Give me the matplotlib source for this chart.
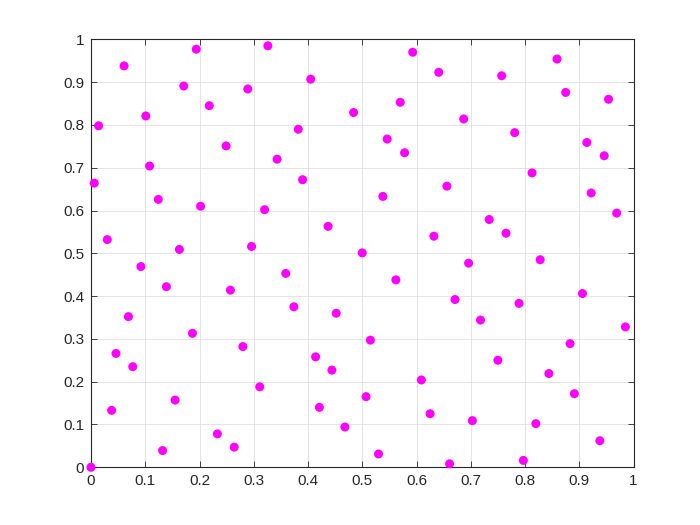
import numpy as np
import matplotlib
matplotlib.use("Agg")
import matplotlib.pyplot as plt

# points
x_vals = [
    0.194, 0.326, 0.061, 0.171, 0.289, 0.218, 0.101, 0.014, 0.249, 0.108,
    0.006, 0.124, 0.202, 0.320, 0.030, 0.163, 0.296,
    0.593, 0.641, 0.405, 0.570, 0.484, 0.382, 0.546, 0.578, 0.343, 0.390,
    0.656, 0.538, 0.437, 0.632, 0.500,
    0.859, 0.757, 0.875, 0.954, 0.687, 0.781, 0.914, 0.946, 0.813, 0.922,
    0.969, 0.734, 0.765,
    0.092, 0.139, 0.257, 0.069, 0.187, 0.280, 0.046, 0.077, 0.311, 0.155,
    0.038, 0.233, 0.264, 0.132, 0.000,
    0.359, 0.562, 0.374, 0.452, 0.515, 0.414, 0.444, 0.609, 0.507, 0.421,
    0.625, 0.468, 0.530, 0.661,
    0.696, 0.828, 0.671, 0.789, 0.906, 0.718, 0.985, 0.883, 0.750, 0.844,
    0.891, 0.703, 0.820, 0.938, 0.797,
]
y_vals = [
    0.977, 0.985, 0.938, 0.891, 0.884, 0.845, 0.821, 0.798, 0.751, 0.704,
    0.664, 0.626, 0.610, 0.602, 0.532, 0.509, 0.516,
    0.970, 0.923, 0.907, 0.853, 0.829, 0.790, 0.767, 0.735, 0.720, 0.672,
    0.657, 0.633, 0.563, 0.540, 0.501,
    0.954, 0.915, 0.876, 0.860, 0.814, 0.782, 0.759, 0.728, 0.688, 0.641,
    0.594, 0.579, 0.547,
    0.469, 0.422, 0.414, 0.352, 0.313, 0.282, 0.266, 0.235, 0.188, 0.157,
    0.133, 0.078, 0.047, 0.039, 0.000,
    0.453, 0.438, 0.375, 0.360, 0.297, 0.258, 0.227, 0.204, 0.165, 0.140,
    0.125, 0.094, 0.031, 0.008,
    0.477, 0.485, 0.392, 0.383, 0.406, 0.344, 0.328, 0.289, 0.250, 0.219,
    0.172, 0.109, 0.102, 0.062, 0.016,
]
tick_vals = [0, 0.1, 0.2, 0.3, 0.4, 0.5, 0.6, 0.7, 0.8, 0.9, 1]
tick_labels = ["0", "0.1", "0.2", "0.3", "0.4", "0.5", "0.6", "0.7", "0.8", "0.9", "1"]

plt.rcParams["font.family"] = ["Liberation Sans", "DejaVu Sans"]

fig = plt.figure(figsize=(7, 5.25), dpi=100)
ax = fig.add_axes([0.13, 0.11, 0.775, 0.815])

ax.scatter(x_vals, y_vals, s=42, color="#ff00ff", edgecolors="none",
           clip_on=False, zorder=3)

ax.set_xlim(0, 1)
ax.set_ylim(0, 1)
ax.set_xticks(tick_vals)
ax.set_xticklabels(tick_labels)
ax.set_yticks(tick_vals)
ax.set_yticklabels(tick_labels)

ax.grid(True, color="#dfdfdf", linewidth=0.6)
ax.set_axisbelow(True)
for sp in ax.spines.values():
    sp.set_color("#262626")
    sp.set_linewidth(0.8)
ax.tick_params(direction="in", length=4, width=0.6, colors="#262626",
               labelsize=11, top=True, right=True, pad=5)

fig.savefig("out.png", dpi=100)
